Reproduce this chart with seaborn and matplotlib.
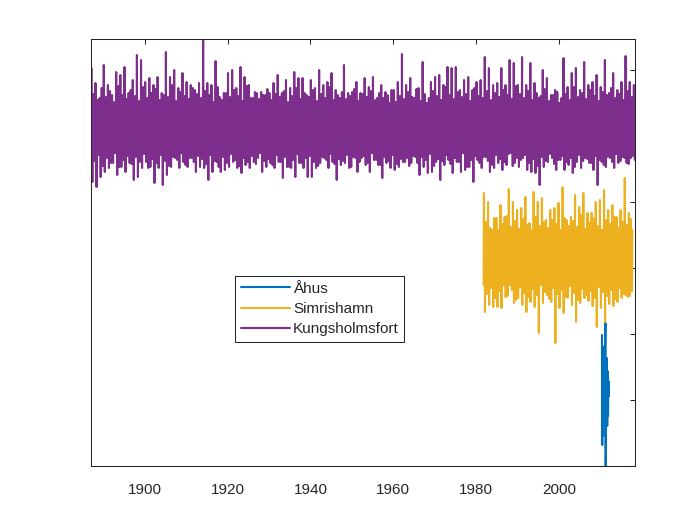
import numpy as np
import pandas as pd
import matplotlib
matplotlib.use("Agg")
import matplotlib.pyplot as plt
import seaborn as sns

# sea level traces, arbitrary offset units (one y tick = 66 units)
stations = ["Åhus", "Simrishamn", "Kungsholmsfort"]
colors = ["#0072BD", "#EDB120", "#7E2F8E"]

# Kungsholmsfort 1887-2018: largest yearly high / low, a second smaller high / low, and the dense core band
kung_start = 1887.0
kung_hi = [398, 383, 368, 401, 381, 371, 394, 391, 399, 373, 386, 411, 406, 384, 388, 381, 389, 373, 414, 389, 396, 378, 393, 384, 381, 376,
           383, 426, 383, 381, 405, 369, 373, 393, 396, 378, 399, 389, 381, 368, 373, 374, 371, 373, 383, 391, 373, 386, 378, 394, 388, 388,
           371, 386, 378, 396, 381, 384, 393, 376, 368, 401, 373, 374, 384, 373, 388, 379, 389, 368, 381, 374, 363, 376, 384, 412, 381, 388,
           368, 378, 404, 361, 384, 389, 391, 381, 399, 398, 399, 376, 386, 389, 376, 384, 386, 409, 398, 381, 383, 398, 381, 406, 403, 381,
           409, 381, 403, 383, 368, 396, 388, 371, 376, 361, 408, 379, 393, 398, 376, 404, 381, 384, 391, 379, 406, 373, 393, 376, 384, 410, 384, 381]
kung_lo = [284, 279, 289, 294, 298, 303, 291, 299, 294, 303, 286, 289, 298, 304, 299, 283, 298, 281, 291, 299, 308, 298, 304, 299, 308, 294,
           299, 298, 286, 294, 304, 294, 296, 299, 304, 298, 293, 301, 298, 304, 308, 294, 299, 303, 298, 304, 288, 299, 298, 289, 303, 298,
           289, 289, 298, 303, 308, 298, 304, 286, 301, 303, 298, 309, 294, 308, 301, 294, 306, 301, 288, 303, 298, 296, 299, 304, 308, 303,
           309, 291, 299, 293, 294, 304, 286, 301, 306, 293, 304, 294, 296, 299, 284, 306, 298, 309, 294, 298, 303, 296, 301, 313, 303, 299,
           308, 296, 294, 293, 281, 299, 304, 308, 296, 306, 296, 301, 293, 304, 298, 308, 303, 296, 281, 304, 299, 308, 298, 303, 309, 303, 308, 306]
kung_hi2 = [372, 366, 378, 369, 375, 364, 380, 371, 367, 376, 370, 365, 379, 368, 373, 377, 366, 371, 369, 381, 365, 374, 370, 367, 378, 372,
            368, 375, 371, 364, 379, 366, 373, 369, 376, 370, 365, 380, 368, 374, 367, 371, 377, 366, 372, 369, 375, 364, 370, 378, 367, 373,
            369, 376, 365, 372, 368, 379, 366, 371, 374, 367, 370, 377, 365, 372, 369, 375, 366, 373, 368, 371, 376, 364, 370, 367, 374, 369,
            377, 365, 372, 368, 375, 370, 366, 379, 371, 367, 374, 369, 372, 365, 378, 370, 368, 375, 366, 373, 369, 376, 371, 367, 380, 372,
            368, 375, 366, 373, 370, 377, 365, 371, 374, 368, 372, 366, 379, 369, 373, 367, 376, 370, 365, 374, 371, 378, 368, 372, 366, 375, 369, 373]
kung_lo2 = [305, 311, 300, 308, 303, 313, 299, 306, 310, 302, 309, 304, 312, 298, 307, 303, 311, 305, 300, 309, 306, 313, 301, 308, 304, 310,
            307, 302, 311, 305, 299, 309, 303, 312, 306, 300, 308, 304, 310, 302, 313, 305, 307, 301, 311, 304, 309, 299, 306, 312, 303, 308,
            310, 304, 300, 309, 306, 312, 302, 307, 305, 311, 299, 308, 304, 310, 303, 313, 306, 301, 309, 305, 311, 302, 307, 304, 300, 310,
            303, 309, 306, 312, 300, 307, 305, 311, 302, 308, 304, 313, 299, 306, 310, 303, 309, 305, 301, 311, 307, 304, 312, 300, 308, 306,
            311, 303, 307, 300, 309, 305, 312, 302, 306, 310, 304, 308, 299, 311, 305, 307, 303, 310, 306, 301, 309, 304, 312, 305, 308, 302, 310, 306]
kung_core = (313, 363)

# Simrishamn 1982-2017
sim_start = 1981.8
sim_hi = [273, 264, 234, 248, 261, 249, 277, 264, 256, 258, 269, 243, 274, 264, 268, 246, 256, 258,
          263, 279, 246, 249, 271, 259, 273, 253, 253, 264, 266, 276, 256, 261, 249, 256, 288, 253]
sim_lo = [154, 161, 159, 159, 158, 169, 181, 163, 168, 161, 154, 164, 159, 133, 163, 171, 164, 123,
          158, 153, 168, 161, 144, 163, 168, 165, 160, 139, 158, 144, 162, 160, 164, 168, 171, 170]
sim_hi2 = [244, 238, 248, 236, 242, 250, 239, 245, 237, 247, 241, 235, 249, 240, 244, 238, 246, 242,
           236, 248, 240, 245, 239, 251, 237, 243, 247, 240, 236, 246, 242, 249, 238, 244, 241, 247]
sim_lo2 = [172, 178, 168, 175, 181, 170, 176, 166, 179, 173, 169, 177, 171, 182, 174, 167, 178, 172,
           176, 169, 180, 173, 166, 177, 171, 175, 168, 179, 174, 170, 176, 167, 178, 172, 169, 175]
sim_core = (181, 236)

# Åhus: short record
ahus_year = [2010.38, 2010.45, 2010.55, 2010.65, 2010.75, 2010.85, 2010.95, 2011.05, 2011.15, 2011.22,
             2011.28, 2011.35, 2011.45, 2011.55, 2011.65, 2011.75, 2011.85, 2011.95, 2012.05]
ahus_level = [131, 21, 120, 30, 115, 45, 110, 40, 120, 143, -20, 100, 45, 108, 40, 95, 50, 85, 70]


def yearly_trace(start, hi, lo, hi2, lo2, core):
    # each year: two up-spikes and two down-spikes around the dense core band
    c_lo, c_hi = core
    t, v = [], []
    for i in range(len(hi)):
        seq = [c_lo, hi[i], c_lo, c_hi, lo[i], c_hi,
               c_lo, hi2[i], c_lo, c_hi, lo2[i], c_hi]
        for k, val in enumerate(seq):
            t.append(start + i + k / len(seq))
            v.append(val)
    return t, v


kt, kv = yearly_trace(kung_start, kung_hi, kung_lo, kung_hi2, kung_lo2, kung_core)
st, sv = yearly_trace(sim_start, sim_hi, sim_lo, sim_hi2, sim_lo2, sim_core)

df = pd.concat([
    pd.DataFrame({"year": ahus_year, "level": ahus_level, "station": stations[0]}),
    pd.DataFrame({"year": st, "level": sv, "station": stations[1]}),
    pd.DataFrame({"year": kt, "level": kv, "station": stations[2]}),
], ignore_index=True)

sns.set_style("white")
plt.rcParams["font.family"] = ["Liberation Sans", "DejaVu Sans"]

fig = plt.figure(figsize=(7, 5.25), dpi=100)
ax = fig.add_axes([0.13, 0.1124, 0.7771, 0.8133])

sns.lineplot(data=df, x="year", y="level", hue="station", hue_order=stations,
             palette=colors, estimator=None, sort=False, linewidth=1.5, ax=ax)

ax.set_xlim(1887.0, 2018.35)
ax.set_ylim(0, 427)
ax.set_xticks(range(1900, 2001, 20))
ax.set_yticks(np.arange(0, 427, 66))
ax.set_yticklabels([])
ax.set_xlabel("")
ax.set_ylabel("")
ax.tick_params(direction="in", top=True, right=True, length=3.5, width=0.75,
               color="#262626", labelsize=11, labelcolor="#262626", pad=12)
for s in ax.spines.values():
    s.set_color("#262626")
    s.set_linewidth(0.75)

handles, labels = ax.get_legend_handles_labels()
leg = ax.legend(handles, labels, loc="lower left", bbox_to_anchor=(0.265, 0.29),
                borderaxespad=0, fontsize=11, frameon=True, fancybox=False,
                framealpha=1, edgecolor="#262626", handlelength=3.2,
                handletextpad=0.2, labelspacing=0.42, borderpad=0.38)
leg.get_frame().set_linewidth(0.75)
for line in leg.get_lines():
    line.set_linewidth(1.5)

fig.savefig("out.png", dpi=100)
